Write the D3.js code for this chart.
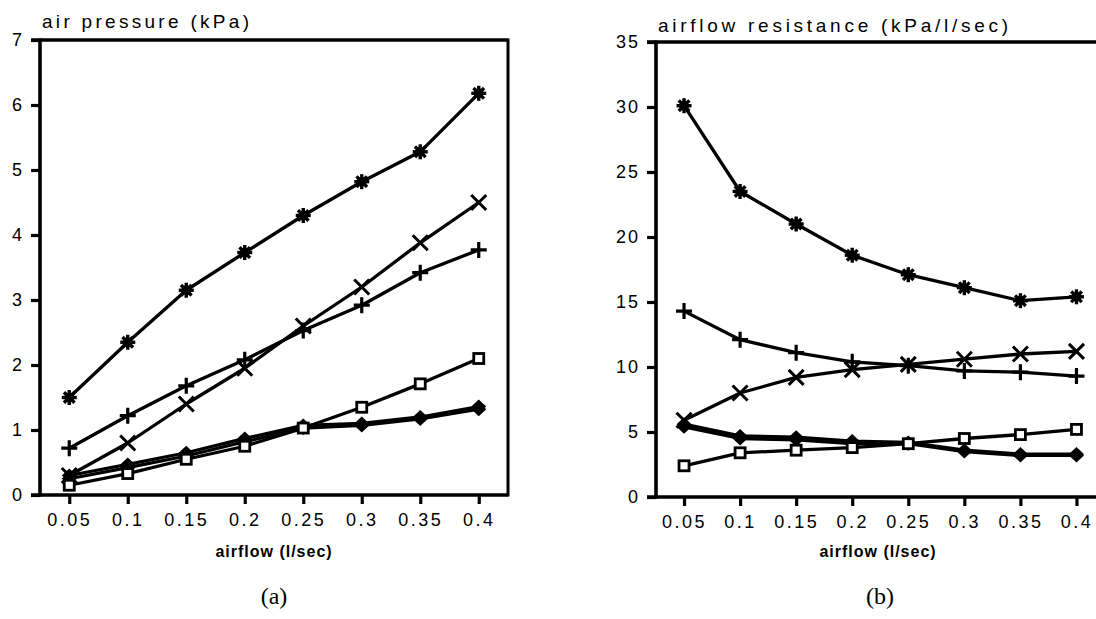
<!DOCTYPE html>
<html><head><meta charset="utf-8">
<script src="https://cdn.jsdelivr.net/npm/d3@7"></script>
<style>body{margin:0;background:#fff}svg{display:block}</style>
</head><body>
<svg id="c" width="1096" height="619"></svg>
<script>
const airflow = [0.05, 0.1, 0.15, 0.2, 0.25, 0.3, 0.35, 0.4];
const xTickLabels = ["0.05","0.1","0.15","0.2","0.25","0.3","0.35","0.4"];
const pressureTicks = [0,1,2,3,4,5,6,7];
const resistanceTicks = [0,5,10,15,20,25,30,35];

// (a) air pressure (kPa)
const pStar    = [1.5, 2.35, 3.15, 3.73, 4.3, 4.82, 5.28, 6.18];
const pCross   = [0.3, 0.8, 1.4, 1.95, 2.6, 3.2, 3.88, 4.5];
const pPlus    = [0.72, 1.22, 1.68, 2.08, 2.53, 2.92, 3.42, 3.77];
const pSquare  = [0.15, 0.33, 0.55, 0.75, 1.03, 1.35, 1.71, 2.1];
const pDiamond = [0.3, 0.47, 0.65, 0.87, 1.07, 1.1, 1.2, 1.36];
const pDiamond2= [0.25, 0.42, 0.6, 0.82, 1.03, 1.07, 1.17, 1.32];

// (b) airflow resistance (kPa/l/sec)
const rStar    = [30.1, 23.5, 21.0, 18.6, 17.1, 16.1, 15.1, 15.4];
const rCross   = [5.9, 8.0, 9.2, 9.8, 10.2, 10.6, 11.0, 11.2];
const rPlus    = [14.3, 12.1, 11.1, 10.4, 10.1, 9.7, 9.6, 9.3];
const rSquare  = [2.4, 3.4, 3.6, 3.8, 4.1, 4.5, 4.8, 5.2];
const rDiamond = [5.6, 4.7, 4.6, 4.3, 4.2, 3.6, 3.3, 3.3];
const rDiamond2= [5.4, 4.5, 4.4, 4.1, 4.1, 3.5, 3.2, 3.2];

const svg = d3.select("#c");
const TF = "'Liberation Sans', Arial, sans-serif";

function marker(g, type, x, y) {
  const s = 7.5;
  if (type === "star") {
    const p = g.append("g").attr("stroke","#000").attr("stroke-width",3.4).attr("stroke-linecap","butt");
    for (let k = 0; k < 4; k++) {
      const a = k * Math.PI / 4;
      p.append("line").attr("x1", x - s*Math.cos(a)).attr("y1", y - s*Math.sin(a))
        .attr("x2", x + s*Math.cos(a)).attr("y2", y + s*Math.sin(a));
    }
    g.append("circle").attr("cx",x).attr("cy",y).attr("r",4.8).attr("fill","#000");
  } else if (type === "cross") {
    g.append("path").attr("d", `M${x-7.5},${y-7.5}L${x+7.5},${y+7.5}M${x-7.5},${y+7.5}L${x+7.5},${y-7.5}`)
      .attr("stroke","#000").attr("stroke-width",3).attr("fill","none");
  } else if (type === "plus") {
    g.append("path").attr("d", `M${x-8},${y}L${x+8},${y}M${x},${y-8}L${x},${y+8}`)
      .attr("stroke","#000").attr("stroke-width",3.2).attr("fill","none");
  } else if (type === "square") {
    g.append("rect").attr("x",x-5).attr("y",y-5).attr("width",10).attr("height",10)
      .attr("fill","#fff").attr("stroke","#000").attr("stroke-width",2.8);
  } else if (type === "diamond") {
    g.append("path").attr("d", `M${x},${y-7}L${x+7.5},${y}L${x},${y+7}L${x-7.5},${y}Z`).attr("fill","#000");
  }
}

function panel(opt) {
  const x = d3.scaleLinear().domain([0.025, 0.425]).range([opt.x0, opt.x1]);
  const y = d3.scaleLinear().domain([0, opt.ymax]).range([opt.yb, opt.yt]);
  const g = svg.append("g");

  g.append("line").attr("x1", opt.x0 - 9).attr("x2", Math.min(opt.x1, 1100)).attr("y1", opt.yt).attr("y2", opt.yt)
    .attr("stroke","#000").attr("stroke-width",3.4);
  if (opt.x1 < 1096) g.append("line").attr("x1", opt.x1).attr("x2", opt.x1).attr("y1", opt.yt - 1.5).attr("y2", opt.yb + 1.5)
    .attr("stroke","#000").attr("stroke-width",3);

  const ya = g.append("g").attr("transform", `translate(${opt.x0},0)`)
    .call(d3.axisLeft(y).tickValues(opt.yticks).tickSize(9).tickPadding(7).tickFormat(d3.format("d")));
  ya.select(".domain").attr("stroke-width",3.6).attr("d", `M0,${opt.yt - 1.5}V${opt.yb + 1.5}`);
  ya.selectAll(".tick line").attr("stroke-width",3.2);
  ya.selectAll(".tick text").attr("font-family",TF).attr("font-size",18).attr("fill","#000")
    .attr("letter-spacing","2px");

  const xa = g.append("g").attr("transform", `translate(0,${opt.yb})`)
    .call(d3.axisBottom(x).tickValues(airflow).tickSize(9).tickPadding(9).tickFormat((d,i) => xTickLabels[i]));
  xa.select(".domain").attr("stroke-width",3.6).attr("d", `M${opt.x0 - 9},0H${Math.min(opt.x1, 1100)}`);
  xa.selectAll(".tick line").attr("stroke-width",3.2);
  xa.selectAll(".tick text").attr("font-family",TF).attr("font-size",18).attr("fill","#000")
    .attr("letter-spacing","2.5px");

  g.append("text").attr("x", opt.titleX).attr("y", opt.titleY).attr("font-family",TF).attr("font-size",19)
    .attr("textLength", opt.titleW).attr("lengthAdjust","spacing").text(opt.title);
  g.append("text").attr("x", opt.xlabX).attr("y", 557).attr("text-anchor","middle").attr("font-family",TF)
    .attr("font-size",16).attr("font-weight","bold").attr("letter-spacing","1px").text("airflow (l/sec)");
  g.append("text").attr("x", opt.capX).attr("y", 604).attr("text-anchor","middle")
    .attr("font-family","'Liberation Serif', 'Times New Roman', serif").attr("font-size",24).text(opt.cap);

  const line = d3.line().x((d,i) => x(airflow[i])).y(d => y(d));
  opt.series.forEach(s => {
    g.append("path").datum(s.v).attr("d", line).attr("fill","none").attr("stroke","#000")
      .attr("stroke-width",3.3).attr("stroke-linejoin","round");
  });
  opt.series.forEach(s => {
    s.v.forEach((v,i) => marker(g, s.m, x(airflow[i]), y(v)));
  });
}

panel({x0:40, x1:508, yb:495, yt:40, ymax:7, yticks:pressureTicks,
  title:"air pressure (kPa)", titleX:42, titleY:28, titleW:207, xlabX:274, capX:274, cap:"(a)",
  series:[{v:pDiamond2,m:"diamond"},{v:pDiamond,m:"diamond"},{v:pSquare,m:"square"},
          {v:pPlus,m:"plus"},{v:pCross,m:"cross"},{v:pStar,m:"star"}]});

panel({x0:656, x1:1104.5, yb:497, yt:42, ymax:35, yticks:resistanceTicks,
  title:"airflow resistance (kPa/l/sec)", titleX:658, titleY:32, titleW:350, xlabX:878, capX:880, cap:"(b)",
  series:[{v:rDiamond2,m:"diamond"},{v:rDiamond,m:"diamond"},{v:rSquare,m:"square"},
          {v:rPlus,m:"plus"},{v:rCross,m:"cross"},{v:rStar,m:"star"}]});
</script>
</body></html>
